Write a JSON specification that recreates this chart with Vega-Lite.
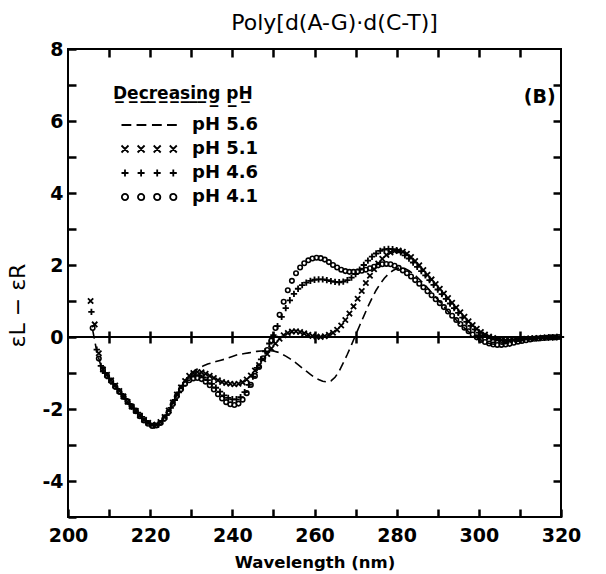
{
  "$schema": "https://vega.github.io/schema/vega-lite/v6.json",
  "width": 493,
  "height": 468,
  "autosize": {"type": "none"},
  "padding": {"left": 68, "top": 49, "right": 45, "bottom": 57},
  "background": "white",
  "title": {"text": "Poly[d(A-G)·d(C-T)]", "font": "DejaVu Sans", "fontSize": 22, "fontWeight": "normal", "color": "black", "anchor": "middle", "frame": "group", "baseline": "alphabetic", "offset": -12, "dx": 20},
  "config": {
    "font": "DejaVu Sans",
    "view": {"stroke": "black", "strokeWidth": 2},
    "axis": {"grid": false, "domain": false, "tickColor": "black", "tickWidth": 2.5, "labelColor": "black", "titleColor": "black", "labelFont": "DejaVu Sans", "titleFont": "DejaVu Sans", "labelOverlap": false, "labelFlush": false, "labelBound": false}
  },
  "datasets": {
    "ph56": [
      {"nm":206,"eps":0.2},{"nm":207,"eps":-0.4},{"nm":208,"eps":-0.8},{"nm":209,"eps":-1.0},{"nm":210,"eps":-1.15},{"nm":211,"eps":-1.3},{"nm":212,"eps":-1.45},{"nm":213,"eps":-1.6},{"nm":214,"eps":-1.75},{"nm":215,"eps":-1.9},{"nm":216,"eps":-2.0},{"nm":217,"eps":-2.12},{"nm":218,"eps":-2.25},{"nm":219,"eps":-2.35},{"nm":220,"eps":-2.42},{"nm":221,"eps":-2.45},{"nm":222,"eps":-2.4},{"nm":223,"eps":-2.3},{"nm":224,"eps":-2.15},{"nm":225,"eps":-1.95},{"nm":226,"eps":-1.72},{"nm":227,"eps":-1.5},{"nm":228,"eps":-1.3},{"nm":229,"eps":-1.12},{"nm":230,"eps":-1.0},{"nm":231,"eps":-0.92},{"nm":232,"eps":-0.85},{"nm":233,"eps":-0.8},{"nm":234,"eps":-0.75},{"nm":235,"eps":-0.72},{"nm":236,"eps":-0.68},{"nm":237,"eps":-0.65},{"nm":238,"eps":-0.62},{"nm":239,"eps":-0.58},{"nm":240,"eps":-0.54},{"nm":241,"eps":-0.5},{"nm":242,"eps":-0.48},{"nm":243,"eps":-0.46},{"nm":244,"eps":-0.44},{"nm":245,"eps":-0.42},{"nm":246,"eps":-0.4},{"nm":247,"eps":-0.39},{"nm":248,"eps":-0.38},{"nm":249,"eps":-0.38},{"nm":250,"eps":-0.39},{"nm":251,"eps":-0.42},{"nm":252,"eps":-0.47},{"nm":253,"eps":-0.53},{"nm":254,"eps":-0.6},{"nm":255,"eps":-0.68},{"nm":256,"eps":-0.77},{"nm":257,"eps":-0.86},{"nm":258,"eps":-0.95},{"nm":259,"eps":-1.04},{"nm":260,"eps":-1.12},{"nm":261,"eps":-1.18},{"nm":262,"eps":-1.23},{"nm":263,"eps":-1.25},{"nm":264,"eps":-1.22},{"nm":265,"eps":-1.12},{"nm":266,"eps":-0.95},{"nm":267,"eps":-0.72},{"nm":268,"eps":-0.48},{"nm":269,"eps":-0.22},{"nm":270,"eps":0.05},{"nm":271,"eps":0.32},{"nm":272,"eps":0.58},{"nm":273,"eps":0.84},{"nm":274,"eps":1.08},{"nm":275,"eps":1.3},{"nm":276,"eps":1.48},{"nm":277,"eps":1.63},{"nm":278,"eps":1.75},{"nm":279,"eps":1.84},{"nm":280,"eps":1.9},{"nm":281,"eps":1.92},{"nm":282,"eps":1.9},{"nm":283,"eps":1.84},{"nm":284,"eps":1.76},{"nm":285,"eps":1.66},{"nm":286,"eps":1.55},{"nm":287,"eps":1.43},{"nm":288,"eps":1.3},{"nm":289,"eps":1.17},{"nm":290,"eps":1.04},{"nm":291,"eps":0.91},{"nm":292,"eps":0.78},{"nm":293,"eps":0.65},{"nm":294,"eps":0.53},{"nm":295,"eps":0.41},{"nm":296,"eps":0.3},{"nm":297,"eps":0.2},{"nm":298,"eps":0.1},{"nm":299,"eps":0.02},{"nm":300,"eps":-0.05},{"nm":301,"eps":-0.11},{"nm":302,"eps":-0.16},{"nm":303,"eps":-0.19},{"nm":304,"eps":-0.2},{"nm":305,"eps":-0.2},{"nm":306,"eps":-0.19},{"nm":307,"eps":-0.17},{"nm":308,"eps":-0.15},{"nm":310,"eps":-0.11},{"nm":312,"eps":-0.08},{"nm":314,"eps":-0.05},{"nm":316,"eps":-0.03},{"nm":318,"eps":-0.01},{"nm":320,"eps":0.0}
    ],
    "ph51": [
      {"nm":205.5,"eps":1.0},{"nm":206.5,"eps":0.35},{"nm":207.5,"eps":-0.45},{"nm":208.5,"eps":-0.9},{"nm":209.5,"eps":-1.05},{"nm":210.5,"eps":-1.2},{"nm":211.5,"eps":-1.35},{"nm":212.5,"eps":-1.5},{"nm":213.5,"eps":-1.65},{"nm":214.5,"eps":-1.8},{"nm":215.5,"eps":-1.93},{"nm":216.5,"eps":-2.05},{"nm":217.5,"eps":-2.18},{"nm":218.5,"eps":-2.3},{"nm":219.5,"eps":-2.38},{"nm":220.5,"eps":-2.44},{"nm":221.5,"eps":-2.44},{"nm":222.5,"eps":-2.36},{"nm":223.5,"eps":-2.22},{"nm":224.5,"eps":-2.04},{"nm":225.5,"eps":-1.82},{"nm":226.5,"eps":-1.6},{"nm":227.5,"eps":-1.4},{"nm":228.5,"eps":-1.22},{"nm":229.5,"eps":-1.08},{"nm":230.5,"eps":-1.0},{"nm":231.5,"eps":-0.97},{"nm":232.5,"eps":-0.98},{"nm":233.5,"eps":-1.02},{"nm":234.5,"eps":-1.08},{"nm":235.5,"eps":-1.14},{"nm":236.5,"eps":-1.2},{"nm":237.5,"eps":-1.25},{"nm":238.5,"eps":-1.28},{"nm":239.5,"eps":-1.3},{"nm":240.5,"eps":-1.31},{"nm":241.5,"eps":-1.3},{"nm":242.5,"eps":-1.26},{"nm":243.5,"eps":-1.18},{"nm":244.5,"eps":-1.07},{"nm":245.5,"eps":-0.93},{"nm":246.5,"eps":-0.78},{"nm":247.5,"eps":-0.62},{"nm":248.5,"eps":-0.47},{"nm":249.5,"eps":-0.32},{"nm":250.5,"eps":-0.18},{"nm":251.5,"eps":-0.05},{"nm":252.5,"eps":0.05},{"nm":253.5,"eps":0.11},{"nm":254.5,"eps":0.15},{"nm":255.5,"eps":0.16},{"nm":256.5,"eps":0.14},{"nm":257.5,"eps":0.1},{"nm":258.5,"eps":0.06},{"nm":259.5,"eps":0.03},{"nm":260.5,"eps":0.01},{"nm":261.5,"eps":0.0},{"nm":262.5,"eps":0.02},{"nm":263.5,"eps":0.06},{"nm":264.5,"eps":0.12},{"nm":265.5,"eps":0.2},{"nm":266.5,"eps":0.32},{"nm":267.5,"eps":0.47},{"nm":268.5,"eps":0.65},{"nm":269.5,"eps":0.85},{"nm":270.5,"eps":1.06},{"nm":271.5,"eps":1.28},{"nm":272.5,"eps":1.5},{"nm":273.5,"eps":1.7},{"nm":274.5,"eps":1.88},{"nm":275.5,"eps":2.04},{"nm":276.5,"eps":2.17},{"nm":277.5,"eps":2.28},{"nm":278.5,"eps":2.35},{"nm":279.5,"eps":2.39},{"nm":280.5,"eps":2.4},{"nm":281.5,"eps":2.37},{"nm":282.5,"eps":2.31},{"nm":283.5,"eps":2.22},{"nm":284.5,"eps":2.11},{"nm":285.5,"eps":1.99},{"nm":286.5,"eps":1.86},{"nm":287.5,"eps":1.73},{"nm":288.5,"eps":1.6},{"nm":289.5,"eps":1.47},{"nm":290.5,"eps":1.34},{"nm":291.5,"eps":1.21},{"nm":292.5,"eps":1.08},{"nm":293.5,"eps":0.95},{"nm":294.5,"eps":0.82},{"nm":295.5,"eps":0.69},{"nm":296.5,"eps":0.56},{"nm":297.5,"eps":0.44},{"nm":298.5,"eps":0.33},{"nm":299.5,"eps":0.23},{"nm":300.5,"eps":0.14},{"nm":301.5,"eps":0.07},{"nm":302.5,"eps":0.01},{"nm":303.5,"eps":-0.03},{"nm":304.5,"eps":-0.06},{"nm":305.5,"eps":-0.08},{"nm":306.5,"eps":-0.09},{"nm":307.5,"eps":-0.09},{"nm":308.5,"eps":-0.08},{"nm":309.5,"eps":-0.07},{"nm":310.5,"eps":-0.06},{"nm":311.5,"eps":-0.05},{"nm":312.5,"eps":-0.04},{"nm":313.5,"eps":-0.04},{"nm":314.5,"eps":-0.03},{"nm":315.5,"eps":-0.02},{"nm":316.5,"eps":-0.02},{"nm":317.5,"eps":-0.01},{"nm":318.5,"eps":-0.01},{"nm":319.5,"eps":0.0}
    ],
    "ph46": [
      {"nm":205.7,"eps":0.7},{"nm":207,"eps":-0.35},{"nm":208,"eps":-0.8},{"nm":209,"eps":-1.0},{"nm":210,"eps":-1.15},{"nm":211,"eps":-1.3},{"nm":212,"eps":-1.44},{"nm":213,"eps":-1.58},{"nm":214,"eps":-1.72},{"nm":215,"eps":-1.86},{"nm":216,"eps":-1.98},{"nm":217,"eps":-2.1},{"nm":218,"eps":-2.22},{"nm":219,"eps":-2.33},{"nm":220,"eps":-2.41},{"nm":221,"eps":-2.46},{"nm":222,"eps":-2.43},{"nm":223,"eps":-2.33},{"nm":224,"eps":-2.17},{"nm":225,"eps":-1.97},{"nm":226,"eps":-1.75},{"nm":227,"eps":-1.54},{"nm":228,"eps":-1.35},{"nm":229,"eps":-1.2},{"nm":230,"eps":-1.1},{"nm":231,"eps":-1.06},{"nm":232,"eps":-1.07},{"nm":233,"eps":-1.12},{"nm":234,"eps":-1.2},{"nm":235,"eps":-1.3},{"nm":236,"eps":-1.41},{"nm":237,"eps":-1.52},{"nm":238,"eps":-1.62},{"nm":239,"eps":-1.69},{"nm":240,"eps":-1.73},{"nm":241,"eps":-1.73},{"nm":242,"eps":-1.67},{"nm":243,"eps":-1.53},{"nm":244,"eps":-1.33},{"nm":245,"eps":-1.1},{"nm":246,"eps":-0.86},{"nm":247,"eps":-0.62},{"nm":248,"eps":-0.4},{"nm":249,"eps":-0.18},{"nm":250,"eps":0.05},{"nm":251,"eps":0.3},{"nm":252,"eps":0.56},{"nm":253,"eps":0.8},{"nm":254,"eps":1.02},{"nm":255,"eps":1.2},{"nm":256,"eps":1.34},{"nm":257,"eps":1.44},{"nm":258,"eps":1.51},{"nm":259,"eps":1.56},{"nm":260,"eps":1.59},{"nm":261,"eps":1.6},{"nm":262,"eps":1.6},{"nm":263,"eps":1.58},{"nm":264,"eps":1.55},{"nm":265,"eps":1.53},{"nm":266,"eps":1.52},{"nm":267,"eps":1.54},{"nm":268,"eps":1.58},{"nm":269,"eps":1.65},{"nm":270,"eps":1.75},{"nm":271,"eps":1.87},{"nm":272,"eps":2.0},{"nm":273,"eps":2.12},{"nm":274,"eps":2.23},{"nm":275,"eps":2.32},{"nm":276,"eps":2.39},{"nm":277,"eps":2.43},{"nm":278,"eps":2.45},{"nm":279,"eps":2.44},{"nm":280,"eps":2.41},{"nm":281,"eps":2.35},{"nm":282,"eps":2.27},{"nm":283,"eps":2.18},{"nm":284,"eps":2.07},{"nm":285,"eps":1.95},{"nm":286,"eps":1.83},{"nm":287,"eps":1.71},{"nm":288,"eps":1.58},{"nm":289,"eps":1.45},{"nm":290,"eps":1.32},{"nm":291,"eps":1.19},{"nm":292,"eps":1.06},{"nm":293,"eps":0.93},{"nm":294,"eps":0.8},{"nm":295,"eps":0.67},{"nm":296,"eps":0.54},{"nm":297,"eps":0.42},{"nm":298,"eps":0.31},{"nm":299,"eps":0.21},{"nm":300,"eps":0.12},{"nm":301,"eps":0.05},{"nm":302,"eps":0.0},{"nm":303,"eps":-0.04},{"nm":304,"eps":-0.07},{"nm":305,"eps":-0.09},{"nm":306,"eps":-0.1},{"nm":307,"eps":-0.1},{"nm":308,"eps":-0.09},{"nm":309,"eps":-0.08},{"nm":310,"eps":-0.07},{"nm":311,"eps":-0.06},{"nm":312,"eps":-0.05},{"nm":313,"eps":-0.04},{"nm":314,"eps":-0.03},{"nm":315,"eps":-0.03},{"nm":316,"eps":-0.02},{"nm":317,"eps":-0.01},{"nm":318,"eps":-0.01},{"nm":319,"eps":0.0},{"nm":320,"eps":0.0}
    ],
    "ph41": [
      {"nm":206,"eps":0.25},{"nm":207.5,"eps":-0.6},{"nm":208.5,"eps":-0.9},{"nm":209.5,"eps":-1.08},{"nm":210.5,"eps":-1.22},{"nm":211.5,"eps":-1.38},{"nm":212.5,"eps":-1.52},{"nm":213.5,"eps":-1.66},{"nm":214.5,"eps":-1.8},{"nm":215.5,"eps":-1.94},{"nm":216.5,"eps":-2.06},{"nm":217.5,"eps":-2.2},{"nm":218.5,"eps":-2.32},{"nm":219.5,"eps":-2.41},{"nm":220.5,"eps":-2.47},{"nm":221.5,"eps":-2.46},{"nm":222.5,"eps":-2.39},{"nm":223.5,"eps":-2.26},{"nm":224.5,"eps":-2.08},{"nm":225.5,"eps":-1.86},{"nm":226.5,"eps":-1.64},{"nm":227.5,"eps":-1.45},{"nm":228.5,"eps":-1.3},{"nm":229.5,"eps":-1.2},{"nm":230.5,"eps":-1.15},{"nm":231.5,"eps":-1.14},{"nm":232.5,"eps":-1.17},{"nm":233.5,"eps":-1.24},{"nm":234.5,"eps":-1.34},{"nm":235.5,"eps":-1.46},{"nm":236.5,"eps":-1.59},{"nm":237.5,"eps":-1.71},{"nm":238.5,"eps":-1.81},{"nm":239.5,"eps":-1.87},{"nm":240.5,"eps":-1.89},{"nm":241.5,"eps":-1.85},{"nm":242.5,"eps":-1.74},{"nm":243.5,"eps":-1.56},{"nm":244.5,"eps":-1.33},{"nm":245.5,"eps":-1.08},{"nm":246.5,"eps":-0.83},{"nm":247.5,"eps":-0.59},{"nm":248.5,"eps":-0.36},{"nm":249.5,"eps":-0.1},{"nm":250.5,"eps":0.25},{"nm":251.5,"eps":0.62},{"nm":252.5,"eps":0.98},{"nm":253.5,"eps":1.3},{"nm":254.5,"eps":1.56},{"nm":255.5,"eps":1.77},{"nm":256.5,"eps":1.93},{"nm":257.5,"eps":2.05},{"nm":258.5,"eps":2.13},{"nm":259.5,"eps":2.18},{"nm":260.5,"eps":2.2},{"nm":261.5,"eps":2.19},{"nm":262.5,"eps":2.15},{"nm":263.5,"eps":2.08},{"nm":264.5,"eps":2.0},{"nm":265.5,"eps":1.93},{"nm":266.5,"eps":1.87},{"nm":267.5,"eps":1.83},{"nm":268.5,"eps":1.81},{"nm":269.5,"eps":1.81},{"nm":270.5,"eps":1.82},{"nm":271.5,"eps":1.84},{"nm":272.5,"eps":1.87},{"nm":273.5,"eps":1.91},{"nm":274.5,"eps":1.95},{"nm":275.5,"eps":1.99},{"nm":276.5,"eps":2.02},{"nm":277.5,"eps":2.03},{"nm":278.5,"eps":2.02},{"nm":279.5,"eps":1.98},{"nm":280.5,"eps":1.92},{"nm":281.5,"eps":1.85},{"nm":282.5,"eps":1.77},{"nm":283.5,"eps":1.68},{"nm":284.5,"eps":1.58},{"nm":285.5,"eps":1.48},{"nm":286.5,"eps":1.38},{"nm":287.5,"eps":1.27},{"nm":288.5,"eps":1.16},{"nm":289.5,"eps":1.05},{"nm":290.5,"eps":0.94},{"nm":291.5,"eps":0.83},{"nm":292.5,"eps":0.71},{"nm":293.5,"eps":0.59},{"nm":294.5,"eps":0.47},{"nm":295.5,"eps":0.36},{"nm":296.5,"eps":0.26},{"nm":297.5,"eps":0.16},{"nm":298.5,"eps":0.07},{"nm":299.5,"eps":-0.01},{"nm":300.5,"eps":-0.08},{"nm":301.5,"eps":-0.14},{"nm":302.5,"eps":-0.18},{"nm":303.5,"eps":-0.21},{"nm":304.5,"eps":-0.22},{"nm":305.5,"eps":-0.22},{"nm":306.5,"eps":-0.21},{"nm":307.5,"eps":-0.19},{"nm":308.5,"eps":-0.16},{"nm":309.5,"eps":-0.13},{"nm":310.5,"eps":-0.11},{"nm":311.5,"eps":-0.09},{"nm":312.5,"eps":-0.07},{"nm":313.5,"eps":-0.05},{"nm":314.5,"eps":-0.04},{"nm":315.5,"eps":-0.03},{"nm":316.5,"eps":-0.02},{"nm":317.5,"eps":-0.01},{"nm":318.5,"eps":-0.01},{"nm":319.5,"eps":0.0}
    ],
    "legend": [
      {"series": "pH 5.6"}, {"series": "pH 5.1"}, {"series": "pH 4.6"}, {"series": "pH 4.1"}
    ],
    "panel": [{"label": "(B)"}]
  },
  "layer": [
    {
      "data": {"name": "panel"},
      "mark": {"type": "rule", "color": "black", "strokeWidth": 2},
      "encoding": {
        "y": {"datum": 0, "type": "quantitative", "scale": {"domain": [-5, 8], "nice": false, "zero": false}, "axis": null}
      }
    },
    {
      "data": {"name": "ph56"},
      "mark": {"type": "line", "color": "black", "strokeWidth": 1.6, "strokeDash": [9, 5]},
      "encoding": {
        "x": {"field": "nm", "type": "quantitative", "scale": {"domain": [200, 320], "nice": false, "zero": false},
          "axis": {"orient": "bottom", "values": [200,210,220,230,240,250,260,270,280,290,300,310,320], "labelExpr": "datum.value % 20 == 0 ? datum.label : ''", "tickSize": -8, "labelPadding": 17, "labelFontSize": 19, "labelFontWeight": "bold", "title": "Wavelength (nm)", "titleFontSize": 16.5, "titleFontWeight": "bold", "titlePadding": 9}},
        "y": {"field": "eps", "type": "quantitative", "scale": {"domain": [-5, 8], "nice": false, "zero": false},
          "axis": {"orient": "left", "values": [-5,-4,-3,-2,-1,0,1,2,3,4,5,6,7,8], "labelExpr": "datum.value % 2 == 0 ? toString(datum.value) : ''", "tickSize": -8, "labelPadding": 13, "labelFontSize": 19, "labelFontWeight": "bold", "title": "εL − εR", "titleFontSize": 22, "titleFontWeight": "normal", "titlePadding": 12, "titleY": 256}}
      }
    },
    {
      "data": {"name": "ph51"},
      "mark": {"type": "point", "shape": "M-1,-1L1,1M-1,1L1,-1", "filled": false, "color": "black", "strokeWidth": 1.8, "size": 28, "opacity": 1},
      "encoding": {
        "x": {"field": "nm", "type": "quantitative", "scale": {"domain": [200, 320], "nice": false, "zero": false},
          "axis": {"orient": "top", "values": [210,220,230,240,250,260,270,280,290,300,310], "labels": false, "tickSize": -8, "title": null}},
        "y": {"field": "eps", "type": "quantitative", "scale": {"domain": [-5, 8], "nice": false, "zero": false},
          "axis": {"orient": "right", "values": [-4,-3,-2,-1,0,1,2,3,4,5,6,7], "labels": false, "tickSize": -8, "title": null}}
      }
    },
    {
      "data": {"name": "ph46"},
      "mark": {"type": "point", "shape": "M-1,0L1,0M0,-1L0,1", "filled": false, "color": "black", "strokeWidth": 1.8, "size": 40, "opacity": 1},
      "encoding": {
        "x": {"field": "nm", "type": "quantitative", "scale": {"domain": [200, 320], "nice": false, "zero": false},
          "axis": {"orient": "bottom", "offset": -186, "values": [210,220,230,240,250,260,270,280,290,300,310], "labels": false, "tickSize": 12, "title": null}},
        "y": {"field": "eps", "type": "quantitative", "scale": {"domain": [-5, 8], "nice": false, "zero": false}, "axis": null}
      }
    },
    {
      "data": {"name": "ph41"},
      "mark": {"type": "point", "shape": "circle", "filled": false, "color": "black", "strokeWidth": 1.6, "size": 20, "opacity": 1},
      "encoding": {
        "x": {"field": "nm", "type": "quantitative", "scale": {"domain": [200, 320], "nice": false, "zero": false}, "axis": null},
        "y": {"field": "eps", "type": "quantitative", "scale": {"domain": [-5, 8], "nice": false, "zero": false}, "axis": null}
      }
    },
    {
      "data": {"name": "legend"},
      "mark": {"type": "point", "filled": false, "color": "black", "opacity": 0},
      "encoding": {
        "shape": {"field": "series", "type": "nominal",
          "scale": {"domain": ["pH 5.6", "pH 5.1", "pH 4.6", "pH 4.1"],
            "range": [
              "M-1,0L1.8,0M3.3,0L6.1,0M7.7,0L10.5,0M12,0L14.8,0",
              "M-1,-1L1,1M-1,1L1,-1M3.6,-1L5.6,1M3.6,1L5.6,-1M8.2,-1L10.2,1M8.2,1L10.2,-1M12.8,-1L14.8,1M12.8,1L14.8,-1",
              "M-1,0L1,0M0,-1L0,1M3.6,0L5.6,0M4.6,-1L4.6,1M8.2,0L10.2,0M9.2,-1L9.2,1M12.8,0L14.8,0M13.8,-1L13.8,1",
              "M-0.9,0A0.9,0.9 0 1 0 0.9,0A0.9,0.9 0 1 0 -0.9,0M3.7,0A0.9,0.9 0 1 0 5.5,0A0.9,0.9 0 1 0 3.7,0M8.3,0A0.9,0.9 0 1 0 10.1,0A0.9,0.9 0 1 0 8.3,0M12.9,0A0.9,0.9 0 1 0 14.7,0A0.9,0.9 0 1 0 12.9,0"
            ]},
          "legend": {"orient": "none", "legendX": 45, "legendY": 37, "title": "D̲e̲c̲r̲e̲a̲s̲i̲n̲g̲  p̲H̲", "titleFont": "DejaVu Sans", "titleFontSize": 17, "titleFontWeight": "bold", "titleColor": "black", "titlePadding": 13, "labelFont": "DejaVu Sans", "labelFontSize": 18, "labelFontWeight": "bold", "labelColor": "black", "labelOffset": 58, "symbolOffset": 3, "symbolSize": 49, "symbolStrokeWidth": 1.8, "symbolStrokeColor": "black", "symbolFillColor": "transparent", "symbolOpacity": 1, "rowPadding": 6,
            "encode": {"symbols": {"update": {"opacity": {"value": 1}, "stroke": {"value": "black"}, "fill": {"value": "transparent"}}}}}
        }
      }
    },
    {
      "data": {"name": "panel"},
      "mark": {"type": "text", "fontSize": 19, "fontWeight": "bold", "color": "black", "font": "DejaVu Sans"},
      "encoding": {
        "text": {"field": "label"},
        "x": {"datum": 314.8, "type": "quantitative", "scale": {"domain": [200, 320], "nice": false, "zero": false}, "axis": null},
        "y": {"datum": 6.67, "type": "quantitative", "scale": {"domain": [-5, 8], "nice": false, "zero": false}, "axis": null}
      }
    }
  ],
  "resolve": {"axis": {"x": "independent", "y": "independent"}}
}
